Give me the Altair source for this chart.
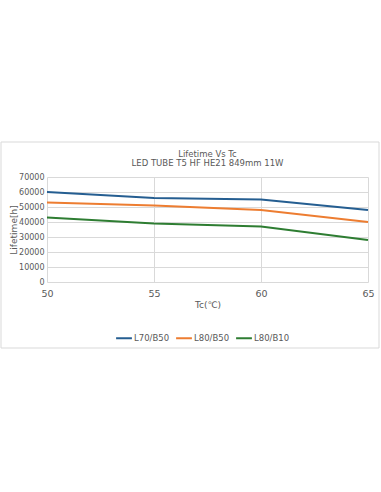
import altair as alt
import pandas as pd

# Case temperature (°C) and rated lifetime (hours) per lumen/failure criterion
tc = [50, 55, 60, 65]
l70_b50 = [60000, 56000, 55000, 48000]
l80_b50 = [53000, 51000, 48000, 40000]
l80_b10 = [43000, 39000, 37000, 28000]
series_names = ["L70/B50", "L80/B50", "L80/B10"]
series_colors = ["#255e91", "#ed7d31", "#2e7d32"]

rows = []
for name, vals in zip(series_names, [l70_b50, l80_b50, l80_b10]):
    for t, v in zip(tc, vals):
        rows.append({"Tc": t, "Lifetime": v, "Series": name})
df = pd.DataFrame(rows)

FONT = "DejaVu Sans"
GREY = "#595959"

lines = alt.Chart(df).mark_line(strokeWidth=2).encode(
    x=alt.X("Tc:Q", scale=alt.Scale(domain=[50, 65], nice=False),
            axis=alt.Axis(title="Tc(℃)", values=tc, grid=True, domain=False,
                          ticks=False, labelFontSize=9.5, labelPadding=6,
                          labelFlush=False, labelOverlap=False,
                          titleFontSize=9, titlePadding=3,
                          titleFontWeight="normal")),
    y=alt.Y("Lifetime:Q", scale=alt.Scale(domain=[0, 70000], nice=False),
            axis=alt.Axis(title="Lifetime[h]", values=list(range(0, 70001, 10000)),
                          grid=True, domain=False, ticks=False, labelFontSize=8,
                          labelPadding=3, labelOverlap=False, labelFlush=False,
                          titleFontSize=9, titlePadding=0,
                          titleFontWeight="normal", format="d")),
    color=alt.Color("Series:N",
                    scale=alt.Scale(domain=series_names, range=series_colors),
                    legend=alt.Legend(title=None, orient="none", direction="horizontal",
                                      columns=3, legendX=68, legendY=152,
                                      symbolType="stroke", symbolStrokeWidth=2,
                                      symbolSize=250, labelFontSize=8.5,
                                      columnPadding=2, labelOffset=1)),
)

# Chart-area frame around title, plot and legend
frame = alt.Chart(pd.DataFrame({"k": [0]})).mark_rect(
    fill=None, stroke="#d9d9d9", strokeWidth=1
).encode(x=alt.value(-46), x2=alt.value(332), y=alt.value(-35), y2=alt.value(171))

chart = alt.layer(frame, lines).properties(
    width=321, height=105,
    autosize="none",
    padding={"left": 47, "top": 177, "right": 13, "bottom": 210},
    title=alt.Title("Lifetime Vs Tc", subtitle="LED TUBE T5 HF HE21 849mm 11W",
                    fontSize=8.5, subtitleFontSize=8.5, fontWeight="normal",
                    color=GREY, subtitleColor=GREY, font=FONT, subtitleFont=FONT,
                    subtitlePadding=1, offset=-26, anchor="middle", frame="group"),
).configure_view(stroke=None).configure_axis(
    labelColor=GREY, titleColor=GREY, gridColor="#d9d9d9",
    labelFont=FONT, titleFont=FONT,
).configure_legend(labelColor=GREY, labelFont=FONT)

chart.save("out.html", embed_options={"renderer": "svg", "actions": False})
